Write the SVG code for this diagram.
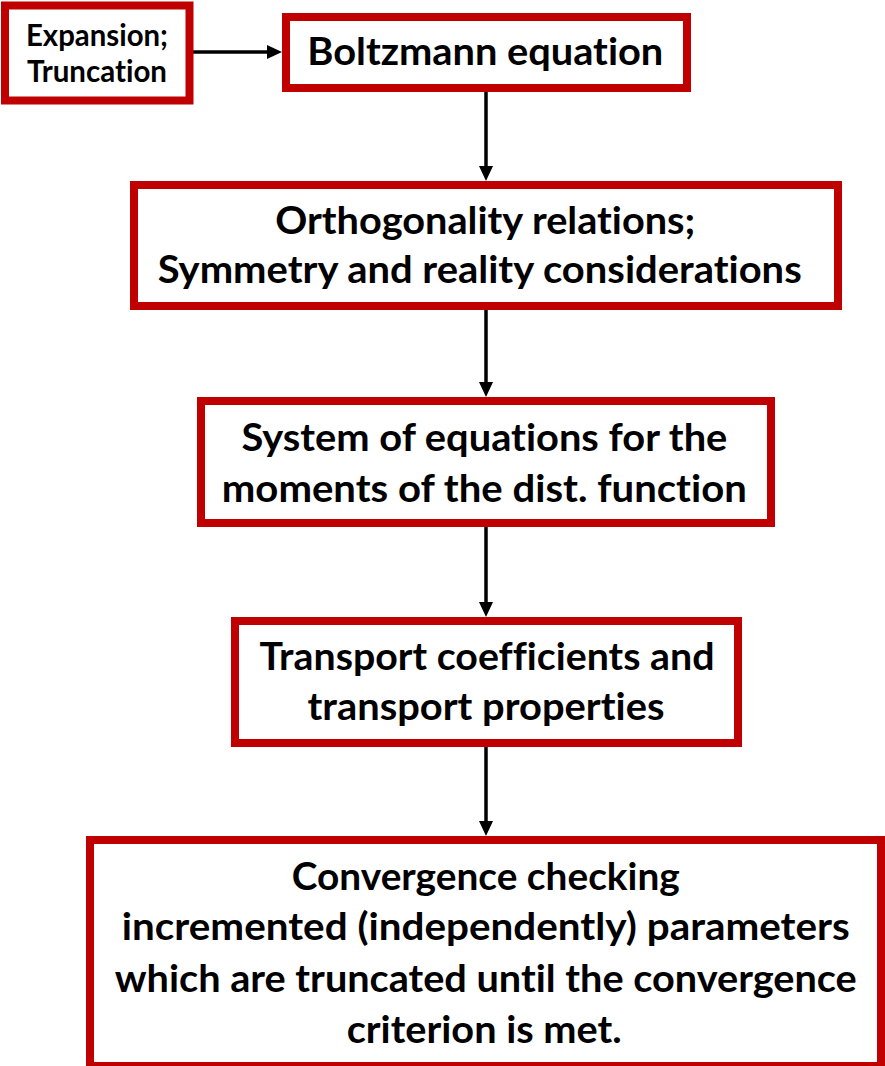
<svg xmlns="http://www.w3.org/2000/svg" width="885" height="1066" viewBox="0 0 885 1066">
<style>
.box{fill:#ffffff;stroke:#c00000;stroke-width:8}
.t{font-family:Lato,"Open Sans","Liberation Sans",sans-serif;font-weight:700;font-size:38px;fill:#000000;text-anchor:middle;font-variant-ligatures:none;font-feature-settings:"liga" 0}
.s{font-size:30px}
.c{stroke:#000000;stroke-width:3.5;fill:none;marker-end:url(#ah)}
</style>
<defs>
<marker id="ah" markerUnits="userSpaceOnUse" markerWidth="15" markerHeight="14" viewBox="0 0 15 14" refX="7" refY="7" orient="auto">
<path d="M0,0 L15,7 L0,14 Z" fill="#000000"/>
</marker>
</defs>
<g id="connectors">
<line class="c" x1="193" y1="52" x2="274" y2="52"/>
<line class="c" x1="486" y1="92" x2="486" y2="173"/>
<line class="c" x1="486" y1="310" x2="486" y2="389"/>
<line class="c" x1="486" y1="527" x2="486" y2="609"/>
<line class="c" x1="486" y1="747" x2="486" y2="828"/>
</g>
<g id="node-expansion">
<rect class="box" x="5" y="5.5" width="184.5" height="95"/>
<text class="t s" x="97" y="46" textLength="142" lengthAdjust="spacingAndGlyphs">Expansion;</text>
<text class="t s" x="97" y="82" textLength="140" lengthAdjust="spacingAndGlyphs">Truncation</text>
</g>
<g id="node-boltzmann">
<rect class="box" x="286" y="17" width="401" height="71"/>
<text class="t" x="485.3" y="65" textLength="356" lengthAdjust="spacingAndGlyphs">Boltzmann equation</text>
</g>
<g id="node-orthogonality">
<rect class="box" x="134" y="185" width="704" height="121"/>
<text class="t" x="485.3" y="234" textLength="420" lengthAdjust="spacingAndGlyphs">Orthogonality relations;</text>
<text class="t" x="479.7" y="283" textLength="644" lengthAdjust="spacingAndGlyphs">Symmetry and reality considerations</text>
</g>
<g id="node-system">
<rect class="box" x="201" y="401" width="570" height="122"/>
<text class="t" x="484.4" y="451" textLength="486" lengthAdjust="spacingAndGlyphs">System of equations for the</text>
<text class="t" x="484.3" y="502" textLength="525" lengthAdjust="spacingAndGlyphs">moments of the dist. function</text>
</g>
<g id="node-transport">
<rect class="box" x="235" y="621" width="503" height="122"/>
<text class="t" x="487" y="670" textLength="455" lengthAdjust="spacingAndGlyphs">Transport coefficients and</text>
<text class="t" x="486" y="720" textLength="357" lengthAdjust="spacingAndGlyphs">transport properties</text>
</g>
<g id="node-convergence">
<rect class="box" x="90" y="840" width="791" height="226"/>
<text class="t" x="485.8" y="890" textLength="388" lengthAdjust="spacingAndGlyphs">Convergence checking</text>
<text class="t" x="485.8" y="940" textLength="728" lengthAdjust="spacingAndGlyphs">incremented (independently) parameters</text>
<text class="t" x="485.8" y="992" textLength="742" lengthAdjust="spacingAndGlyphs">which are truncated until the convergence</text>
<text class="t" x="484.2" y="1043" textLength="275" lengthAdjust="spacingAndGlyphs">criterion is met.</text>
</g>
</svg>
